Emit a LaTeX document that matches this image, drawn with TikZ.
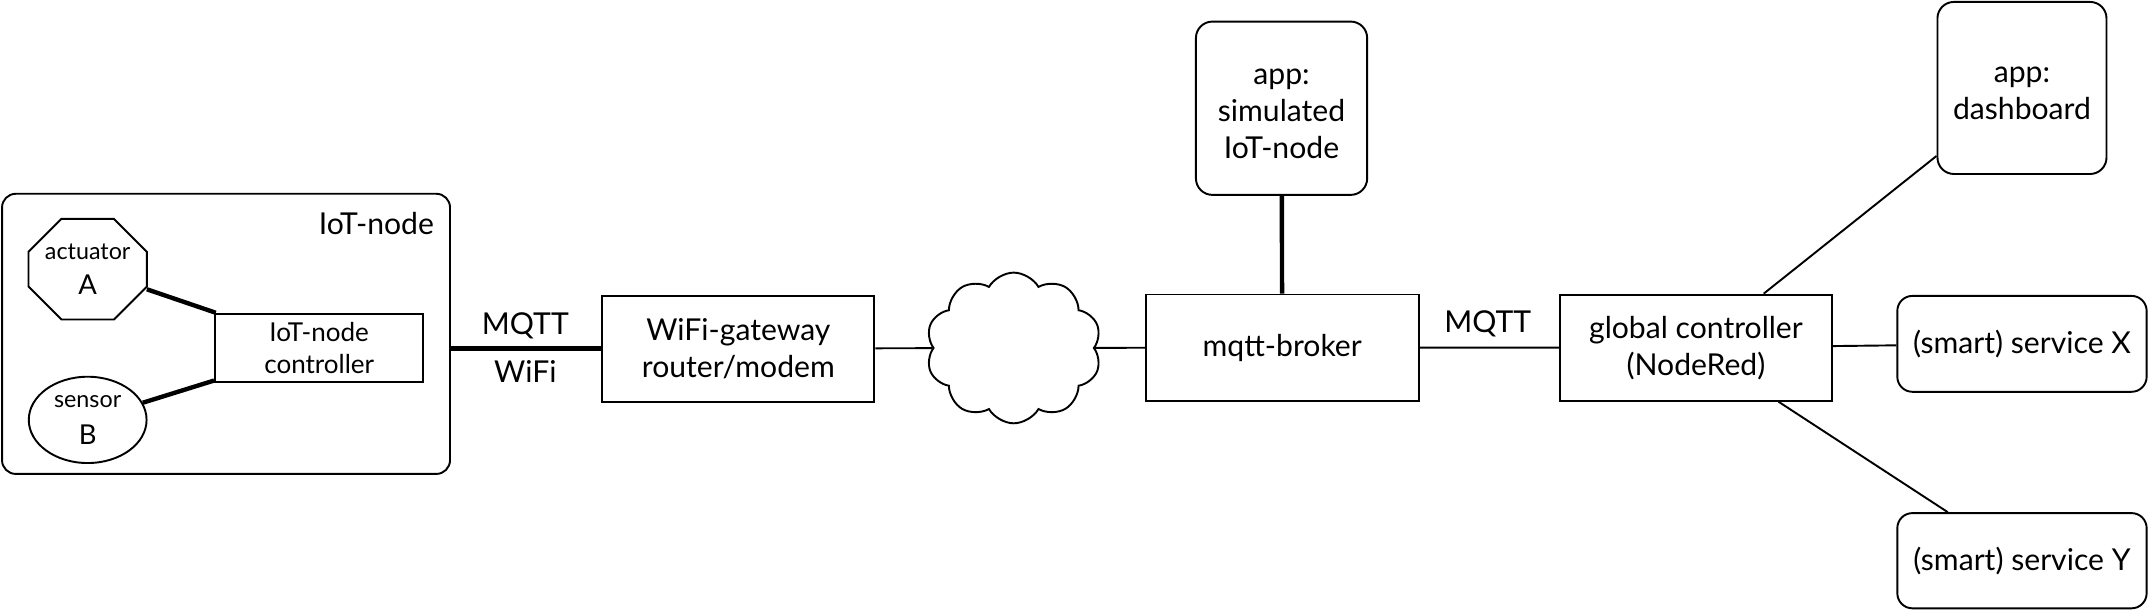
\documentclass[tikz,border=0pt]{standalone}
\usepackage{fontspec}
\setmainfont{Lato}
\usetikzlibrary{shapes.geometric,shapes.symbols}
\begin{document}
\begin{tikzpicture}[x=1pt,y=-1pt,
  box/.style={draw, line width=1.4pt, inner sep=0pt, align=center, font=\fontsize{22}{27}\selectfont},
  rbox/.style={box, rounded corners=12pt},
  thinline/.style={line width=1.4pt},
  thickline/.style={line width=3.2pt},
  lbl/.style={inner sep=0pt, font=\fontsize{22}{27}\selectfont}]
\useasboundingbox (0,0) rectangle (1568,445.3);
% IoT-node group
\node[box, rounded corners=10pt, minimum width=327, minimum height=204.5] (iot) at (165,243.7) {};
\node[lbl, anchor=base east] (iotlbl) at (317,171) {IoT-node};
\node[inner sep=0pt, minimum width=86, minimum height=73, align=center,
      font=\fontsize{17}{25}\selectfont] (act) at (64,196.5) {actuator\\{\fontsize{20}{25}\selectfont A}};
\draw[line width=1.4pt] ([xshift=24pt]act.north west) -- ([xshift=-24pt]act.north east)
  -- ([yshift=-24pt]act.north east) -- ([yshift=24pt]act.south east)
  -- ([xshift=-24pt]act.south east) -- ([xshift=24pt]act.south west)
  -- ([yshift=24pt]act.south west) -- ([yshift=-24pt]act.north west) -- cycle;
\node[draw, ellipse, line width=1.4pt, inner sep=0pt, minimum width=86, minimum height=63, align=center,
      font=\fontsize{17}{27.5}\selectfont] (sen) at (64,306.5) {sensor\\{\fontsize{20}{27.5}\selectfont B}};
\node[box, minimum width=152, minimum height=50, font=\fontsize{19}{23}\selectfont] (ctrl) at (233,254) {IoT-node\\controller};
% main chain
\node[box, minimum width=198.5, minimum height=77.5] (gw) at (539,254.5) {WiFi-gateway\\router/modem};
\node[draw, cloud, cloud puffs=10, cloud puff arc=120, line width=1.4pt, inner sep=0pt,
      minimum width=128, minimum height=110] (cloud) at (740,254) {};
\node[box, minimum width=199, minimum height=77.5] (broker) at (936,253.7) {mqtt-broker};
\node[rbox, minimum width=125, minimum height=126.5] (sim) at (935.5,79) {\strut app:\\simulated\\IoT-node};
\node[box, minimum width=198.5, minimum height=77.5] (gc) at (1238,253.8) {global controller\\(NodeRed)};
\node[rbox, minimum width=123.4, minimum height=125.6] (dash) at (1476,64.2) {\strut app:\\dashboard};
\node[rbox, rounded corners=11pt, minimum width=182, minimum height=70] (svcx) at (1476,251) {(smart) service X};
\node[rbox, rounded corners=11pt, minimum width=182, minimum height=69.5] (svcy) at (1476,409.3) {(smart) service Y};
% labels
\node[lbl, anchor=base] (mqtt1) at (383.5,244.5) {MQTT};
\node[lbl, anchor=base] (wifi) at (383.5,279) {WiFi};
\node[lbl, anchor=base] (mqtt2) at (1086,243) {MQTT};
% connectors
\draw[thickline] (act) -- (ctrl);
\draw[thickline] (sen) -- (ctrl);
\draw[thickline] (gw.west -| iot.east) -- (gw.west);
\draw[thinline] (gw) -- (cloud);
\draw[thinline] (cloud) -- (broker);
\draw[thickline] (sim) -- (broker);
\draw[thinline] (broker) -- (gc);
\draw[thinline] (gc) -- (dash);
\draw[thinline] (gc) -- (svcx);
\draw[thinline] (gc) -- (svcy);
\end{tikzpicture}
\end{document}
